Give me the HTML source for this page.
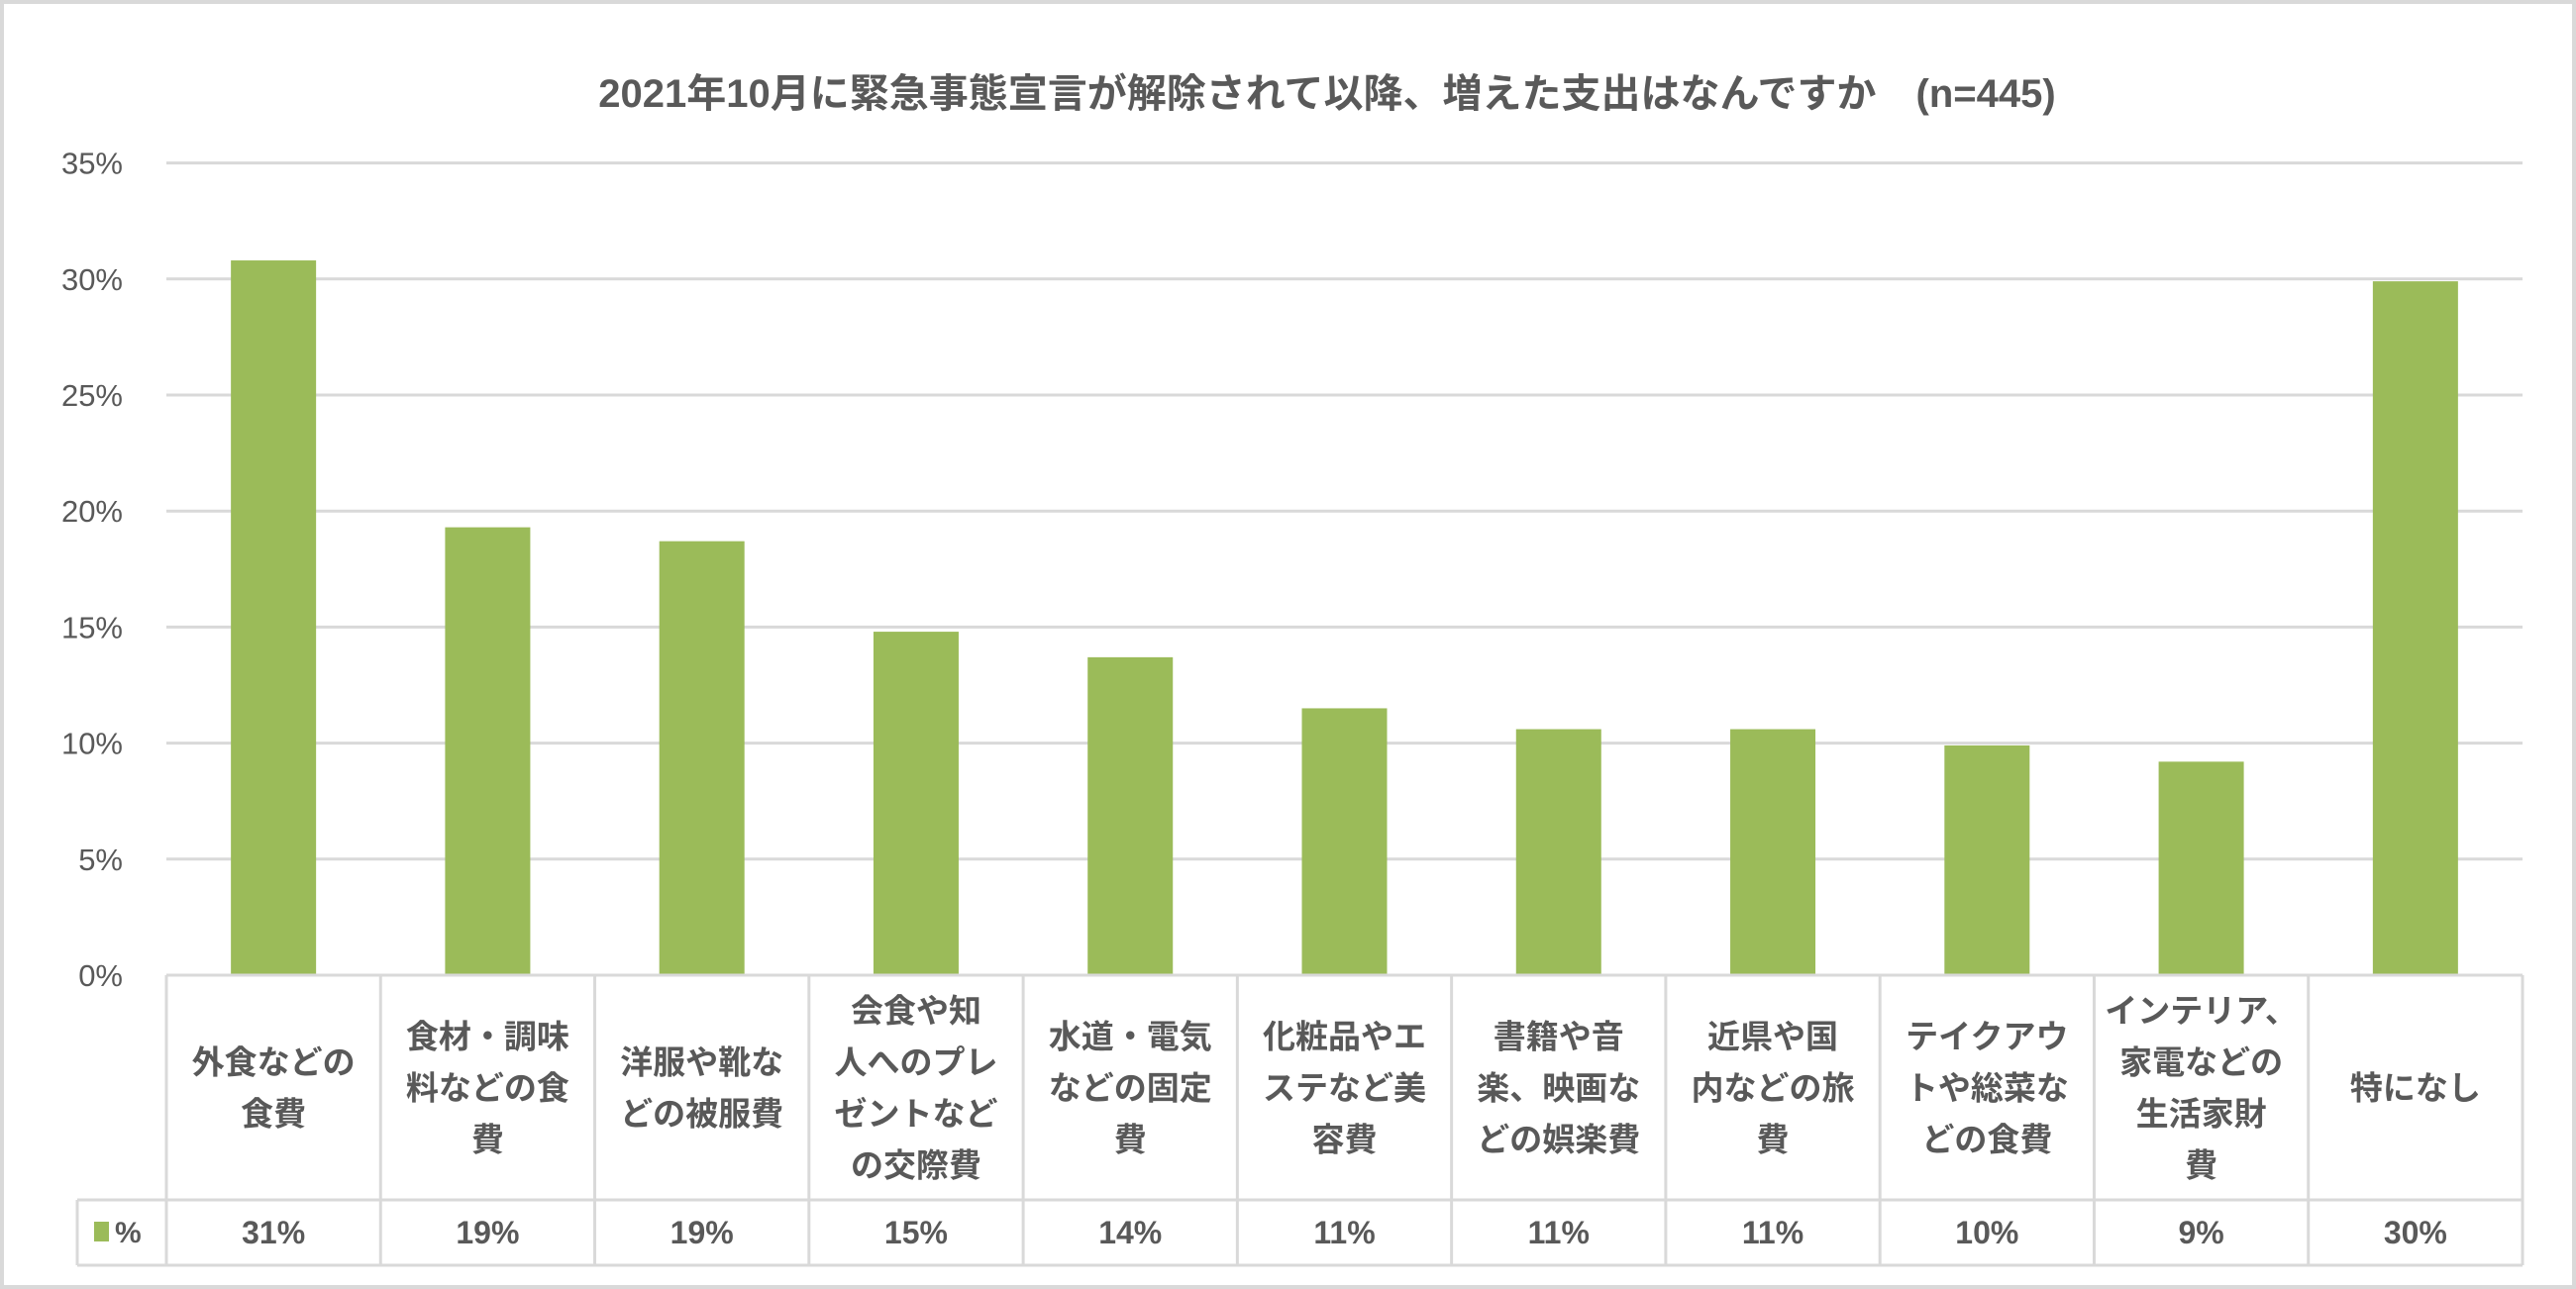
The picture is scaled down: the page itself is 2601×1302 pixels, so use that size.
<!DOCTYPE html>
<html><head><meta charset="utf-8">
<style>
html,body{margin:0;padding:0;background:#fff;}
svg{display:block;font-family:"Liberation Sans","Noto Sans CJK JP",sans-serif;}
</style></head>
<body>
<svg id="chart" width="2601" height="1302" viewBox="0 0 2601 1302" xmlns="http://www.w3.org/2000/svg">
<rect x="2" y="2" width="2597" height="1298" fill="#fff" stroke="#d9d9d9" stroke-width="4"/>
<text x="1340" y="108" text-anchor="middle" font-size="40" font-weight="bold" fill="#595959">2021年10月に緊急事態宣言が解除されて以降、増えた支出はなんですか　(n=445)</text>
<g id="grid"></g><g id="bars"></g><g id="table"></g>
</svg>
<script>
const categories=[["外食などの","食費"],["食材・調味","料などの食","費"],["洋服や靴な","どの被服費"],["会食や知","人へのプレ","ゼントなど","の交際費"],["水道・電気","などの固定","費"],["化粧品やエ","ステなど美","容費"],["書籍や音","楽、映画な","どの娯楽費"],["近県や国","内などの旅","費"],["テイクアウ","トや総菜な","どの食費"],["インテリア、","家電などの","生活家財","費"],["特になし"]];
const values=[30.8,19.3,18.7,14.8,13.7,11.5,10.6,10.6,9.9,9.2,29.9];
const valueLabels=["31%","19%","19%","15%","14%","11%","11%","11%","10%","9%","30%"];
const ticks=[0,5,10,15,20,25,30,35];
const NS="http://www.w3.org/2000/svg";
const L=168,R=2547,Y0=985,PX=117.2/5;
const cw=(R-L)/categories.length;
const y=v=>Y0-v*PX;
const x=i=>L+i*cw;
function mk(t,a,p){const e=document.createElementNS(NS,t);for(const k in a)e.setAttribute(k,a[k]);p.appendChild(e);return e;}
const grid=document.getElementById('grid'),bars=document.getElementById('bars'),table=document.getElementById('table');
ticks.forEach(t=>{
  if(t>0){const l=mk('line',{x1:L,x2:R,y1:y(t),y2:y(t),stroke:'#d9d9d9','stroke-width':3},grid);
  
  }
  const tx=mk('text',{x:124,y:y(t)+11,'text-anchor':'end','font-size':31,fill:'#595959'},grid);
  tx.textContent=t+'%';
  
  
});
const bw=86;
values.forEach((v,i)=>{
  const r=mk('rect',{x:x(i)+cw/2-bw/2,y:y(v),width:bw,height:Y0-y(v),fill:'#9bbb59'},bars);
  
  
});
const T1=1212,T2=1278;
const stroke={stroke:'#d9d9d9','stroke-width':3};
let ln=mk('line',Object.assign({x1:L,x2:R,y1:Y0,y2:Y0},stroke),table);


ln=mk('line',Object.assign({x1:78,x2:R,y1:T1,y2:T1},stroke),table);


ln=mk('line',Object.assign({x1:78,x2:R,y1:T2,y2:T2},stroke),table);


ln=mk('line',Object.assign({x1:78,x2:78,y1:T1,y2:T2},stroke),table);


for(let i=0;i<=categories.length;i++){
  const l=mk('line',Object.assign({x1:x(i),x2:x(i),y1:Y0,y2:T2},stroke),table);
  
  
}
categories.forEach((lines,i)=>{
  const cx=x(i)+cw/2, lh=52, cy=(Y0+T1)/2;
  const start=cy-(lines.length-1)*lh/2+12;
  lines.forEach((s,j)=>{
    const t=mk('text',{x:cx,y:start+j*lh,'text-anchor':'middle','font-size':33,'font-weight':'bold',fill:'#595959'},table);
    t.textContent=s;
    
    
  });
  const vt=mk('text',{x:cx,y:(T1+T2)/2+11,'text-anchor':'middle','font-size':32,'font-weight':'bold',fill:'#595959'},table);
  vt.textContent=valueLabels[i];
  
  
});
const sw=mk('rect',{x:95,y:1234,width:15,height:20,fill:'#9bbb59'},table);


const lg=mk('text',{x:116,y:1255,'font-size':30,'font-weight':'bold',fill:'#595959'},table);
lg.textContent='%';


</script>
</body></html>
